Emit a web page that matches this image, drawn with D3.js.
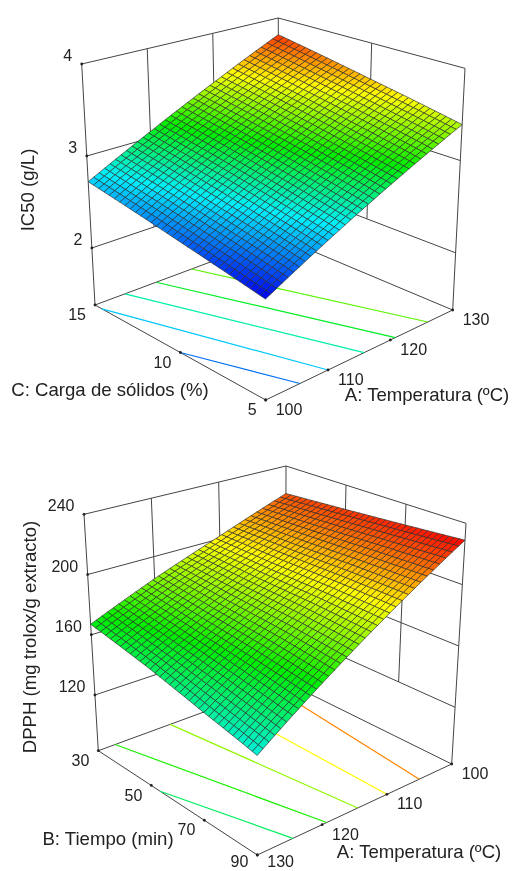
<!DOCTYPE html>
<html lang="en">
<head>
    <meta charset="UTF-8">
    <title>IC50 and DPPH response surfaces</title>
    <script src="https://d3js.org/d3.v7.min.js"></script>
    <style>
        body {
            margin: 0;
            background: white;
        }
        svg {
            display: block;
            filter: blur(0.5px);
        }
        text {
            font-family: "Liberation Sans", Arial, sans-serif;
            fill: #222;
        }
        .tick {
            font-size: 16px;
        }
        .title {
            font-size: 18.6px;
        }
        .frame {
            fill: none;
            stroke: #444;
            stroke-width: 1;
        }
    </style>
</head>
<body>
    <svg width="512" height="871"></svg>
    <script>
        // Top chart: values
        const tempTicksTop = [100, 110, 120, 130];
        const cargaTicks = [5, 10, 15];
        const ic50Ticks = [2, 3, 4];
        const ic50Floor = 1.38;
        // rows follow cargaTicks, columns follow tempTicksTop
        const ic50Grid = [
            [2.37, 2.71, 3.05, 3.39],
            [2.54, 2.89, 3.24, 3.59],
            [2.72, 3.07, 3.43, 3.80]
        ];
        const ic50ColorStops = [2.37, 2.78, 3.13, 3.50, 3.87];
        const ic50Levels = [2.56, 2.71, 2.90, 3.08, 3.26];
        const ic50Contours = [
            [[100, 10], [105.5, 5]],
            [[100, 14.6], [110, 5]],
            [[104.9, 15], [115.8, 5]],
            [[110, 15], [120.8, 5]],
            [[115.8, 15], [126, 5]]
        ];

        // Bottom chart
        const tempTicksBottom = [130, 120, 110, 100];
        const tiempoTicks = [90, 70, 50, 30];
        const dpphTicks = [120, 160, 200, 240];
        const dpphFloor = 83;
        // rows follow tiempoTicks, columns follow tempTicksBottom
        const dpphGrid = [
            [142, 171, 200, 229],
            [150, 176, 201, 226],
            [159, 180, 201, 223],
            [167, 185, 202, 220]
        ];
        const dpphColorStops = [138, 170, 200, 229];
        const dpphLevels = [158, 173, 187, 200, 214];
        const dpphContours = [
            [[130, 53.3], [124.5, 90]],
            [[127.3, 30], [119.3, 90]],
            [[118.5, 30], [114.5, 90]],
            [[110, 30], [110, 90]],
            [[102.2, 30], [105, 90]]
        ];

        const surfaceColors = ["#0000f0", "#00f0ff", "#00ee00", "#ffff00", "#ff0000"];
        const meshCells = 34;

        const svg = d3.select("svg");

        function drawPlot(cfg) {
            const g = svg.append("g");

            // axes to unit cube, then a trilinear map on the eight corners of the box
            const u = d3.scaleLinear().domain(d3.extent(cfg.xTicks)).range([0, 1]);
            const v = d3.scaleLinear().domain(d3.extent(cfg.yTicks)).range([0, 1]);
            if (cfg.xReversed) u.range([1, 0]);
            if (cfg.yReversed) v.range([1, 0]);
            const w = d3.scaleLinear().domain([cfg.zFloor, d3.max(cfg.zTicks)]).range([0, 1]);

            const box = cfg.box;
            const mix = (a, b, t) => [a[0] + (b[0] - a[0]) * t, a[1] + (b[1] - a[1]) * t];
            const project = (x, y, z) => {
                const s = u(x), t = v(y), h = w(z);
                const low = mix(mix(box.front[0], box.right[0], s), mix(box.left[0], box.back[0], s), t);
                const high = mix(mix(box.front[1], box.right[1], s), mix(box.left[1], box.back[1], s), t);
                return mix(low, high, h);
            };

            const line = d3.line();
            const addFrame = pts => g.append("path").attr("class", "frame").attr("d", line(pts));

            const xLo = cfg.xAtFront, xHi = cfg.xAtBack;
            const yLo = cfg.yAtFront, yHi = cfg.yAtBack;
            const zTop = d3.max(cfg.zTicks), zLow = d3.min(cfg.zTicks);

            // wall lines: left wall sits at y = yHi, right wall at x = xHi
            cfg.zTicks.forEach(z => {
                addFrame([project(xLo, yHi, z), project(xHi, yHi, z), project(xHi, yLo, z)]);
            });
            cfg.xTicks.filter(x => x !== xLo && x !== xHi).forEach(x => {
                addFrame([project(x, yHi, zTop), project(x, yHi, zLow)]);
            });
            cfg.yTicks.filter(y => y !== yLo && y !== yHi).forEach(y => {
                addFrame([project(xHi, y, zTop), project(xHi, y, zLow)]);
            });
            addFrame([project(xLo, yHi, zTop), project(xLo, yHi, cfg.zFloor)]);
            addFrame([project(xHi, yLo, zTop), project(xHi, yLo, cfg.zFloor)]);
            addFrame([project(xHi, yHi, zTop), project(xHi, yHi, cfg.zFloor)]);

            // floor outline
            addFrame([
                project(xLo, yHi, cfg.zFloor), project(xLo, yLo, cfg.zFloor),
                project(xHi, yLo, cfg.zFloor), project(xHi, yHi, cfg.zFloor),
                project(xLo, yHi, cfg.zFloor)
            ]);

            const color = d3.scaleLinear().domain(cfg.colorStops).range(cfg.colors).clamp(true);

            // contours on the floor
            cfg.contours.forEach((pts, i) => {
                g.append("path")
                    .attr("d", line(pts.map(p => project(p[0], p[1], cfg.zFloor))))
                    .attr("fill", "none")
                    .attr("stroke", color(cfg.levels[i]))
                    .attr("stroke-width", 1.2);
            });

            // height of the surface between the tick values read into the table
            const rowScales = cfg.grid.map(row => d3.scaleLinear().domain(cfg.xTicks).range(row));
            const heightAt = (x, y) => d3.scaleLinear()
                .domain(cfg.yTicks)
                .range(rowScales.map(r => r(x)))(y);

            const xMesh = d3.scaleLinear().domain([0, meshCells]).range([xLo, xHi]);
            const yMesh = d3.scaleLinear().domain([0, meshCells]).range([yLo, yHi]);

            // paint cells from the far corner to the near one
            const cells = d3.cross(d3.range(meshCells), d3.range(meshCells))
                .sort((a, b) => (b[0] + b[1]) - (a[0] + a[1]));
            g.append("g").selectAll("path")
                .data(cells)
                .join("path")
                .attr("d", ([i, j]) => {
                    const corners = [[i, j], [i + 1, j], [i + 1, j + 1], [i, j + 1]].map(([a, b]) => {
                        const x = xMesh(a), y = yMesh(b);
                        return project(x, y, heightAt(x, y));
                    });
                    return line(corners) + "Z";
                })
                .attr("fill", ([i, j]) => color(heightAt(xMesh(i + 0.5), yMesh(j + 0.5))))
                .attr("stroke", "#2a2a2a")
                .attr("stroke-width", 0.65);

            // tick dots and labels, kept clear of the bottom edge of the page
            const dot = p => g.append("circle").attr("cx", p[0]).attr("cy", p[1]).attr("r", 1.4).attr("fill", "#222");
            const label = (p, txt, dx, dy, anchor) => g.append("text")
                .attr("class", "tick")
                .attr("x", p[0] + dx)
                .attr("y", Math.min(p[1] + dy, 861.5))
                .attr("dy", ".35em")
                .attr("text-anchor", anchor)
                .text(txt);

            cfg.zTicks.forEach(z => {
                const p = project(xLo, yHi, z);
                dot(p);
                label(p, z, -9.5, -8.5, "end");
            });
            cfg.yTicks.forEach(y => {
                const p = project(xLo, y, cfg.zFloor);
                dot(p);
                label(p, y, -9, 9.5, "end");
            });
            cfg.xTicks.forEach(x => {
                const p = project(x, yLo, cfg.zFloor);
                dot(p);
                label(p, x, 10, 9.5, "start");
            });

            // axis titles
            cfg.titles.forEach(t => {
                g.append("text")
                    .attr("class", "title")
                    .attr("transform", `translate(${t.x},${t.y}) rotate(${t.rotate || 0})`)
                    .attr("text-anchor", "middle")
                    .attr("dy", ".35em")
                    .text(t.text);
            });
        }

        drawPlot({
            xTicks: tempTicksTop,
            yTicks: cargaTicks,
            zTicks: ic50Ticks,
            zFloor: ic50Floor,
            xAtFront: 100, xAtBack: 130,
            yAtFront: 5, yAtBack: 15,
            grid: ic50Grid,
            colorStops: ic50ColorStops,
            colors: surfaceColors,
            levels: ic50Levels,
            contours: ic50Contours,
            box: {
                front: [[265.7, 400], [265, 133]],
                right: [[452.7, 310], [465, 68.3]],
                left: [[95, 305], [81.7, 64]],
                back: [[278.3, 236.7], [278.3, 18]]
            },
            titles: [
                {text: "IC50 (g/L)", x: 27, y: 190, rotate: -90},
                {text: "C: Carga de sólidos (%)", x: 110, y: 389},
                {text: "A: Temperatura (ºC)", x: 427, y: 394}
            ]
        });

        drawPlot({
            xTicks: tempTicksBottom,
            yTicks: tiempoTicks,
            zTicks: dpphTicks,
            zFloor: dpphFloor,
            xReversed: true,
            yReversed: true,
            xAtFront: 130, xAtBack: 100,
            yAtFront: 90, yAtBack: 30,
            grid: dpphGrid,
            colorStops: dpphColorStops,
            colors: surfaceColors.slice(1),
            levels: dpphLevels,
            contours: dpphContours,
            box: {
                front: [[257.3, 855], [257, 590]],
                right: [[451.7, 764], [466, 523.3]],
                left: [[98.3, 750.7], [84, 514.3]],
                back: [[285.7, 682], [286, 466]]
            },
            titles: [
                {text: "DPPH (mg trolox/g extracto)", x: 29, y: 637, rotate: -90},
                {text: "B: Tiempo (min)", x: 108, y: 838},
                {text: "A: Temperatura (ºC)", x: 419, y: 851}
            ]
        });
    </script>
</body>
</html>
